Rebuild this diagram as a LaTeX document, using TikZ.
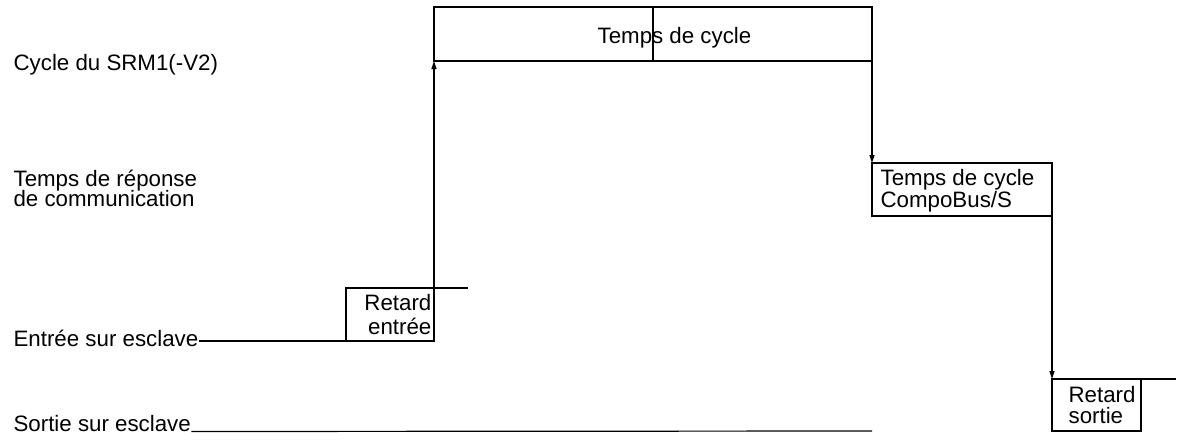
\documentclass[tikz,border=0pt]{standalone}
\usepackage{fontspec}
\setmainfont{Liberation Sans}
\usetikzlibrary{arrows.meta}
\begin{document}
\begin{tikzpicture}[x=1pt,y=-1pt,line width=1.2pt,
  lbl/.style={anchor=base west,inner sep=0pt,font=\fontsize{22.3}{24}\selectfont},
  lble/.style={anchor=base east,inner sep=0pt,font=\fontsize{22.3}{24}\selectfont},
  box/.style={draw,inner sep=0pt,outer sep=0pt,anchor=north west},
  arr/.style={-{Triangle[length=8pt,width=5pt]}}]
\useasboundingbox (0,0) rectangle (1179,440);
% left labels
\node[lbl] (cyc) at (13,70) {Cycle du SRM1(-V2)};
\node[lbl] (tr1) at (13,186.7) {Temps de réponse};
\node[lbl] (tr2) at (13,206.7) {de communication};
\node[lbl] (ent) at (13,346.5) {Entrée sur esclave};
\node[lbl] (sor) at (13,431.5) {Sortie sur esclave};
% boxes
\node[box,minimum width=88pt,minimum height=53pt] (re) at (346,288) {};
\node[box,minimum width=438pt,minimum height=54pt] (top) at (434,7) {};
\node[box,minimum width=180pt,minimum height=53pt] (cb) at (872,163) {};
\node[box,minimum width=89pt,minimum height=52pt] (rs) at (1052,379) {};
% box texts
\node[lble] (re1) at (432,310) {Retard};
\node[lble] (re2) at (432,334) {entrée};
\node[lbl] (tc) at (597,43) {Temps de cycle};
\node[lbl] (cb1) at (880,185) {Temps de cycle};
\node[lbl] (cb2) at (880,207) {CompoBus/S};
\node[lbl] (rs1) at (1068,402) {Retard};
\node[lbl] (rs2) at (1068,423) {sortie};
% extra lines
\draw (top.north) -- (top.south);
\coordinate (reext) at (468,288);
\coordinate (rsext) at (1176,379);
\coordinate (soend) at (872,431);
\draw (re.north east) -- (reext);
\draw (rs.north east) -- (rsext);
\draw (ent.east |- re.south west) -- (re.south west);
\draw (sor.base east) -- (soend);
% connectors
\draw[arr] (re.south east) -- (top.south west);
\draw[arr] (top.south east) -- (cb.north west);
\draw[arr] (cb.south east) -- (rs.north west);
\end{tikzpicture}
\end{document}
